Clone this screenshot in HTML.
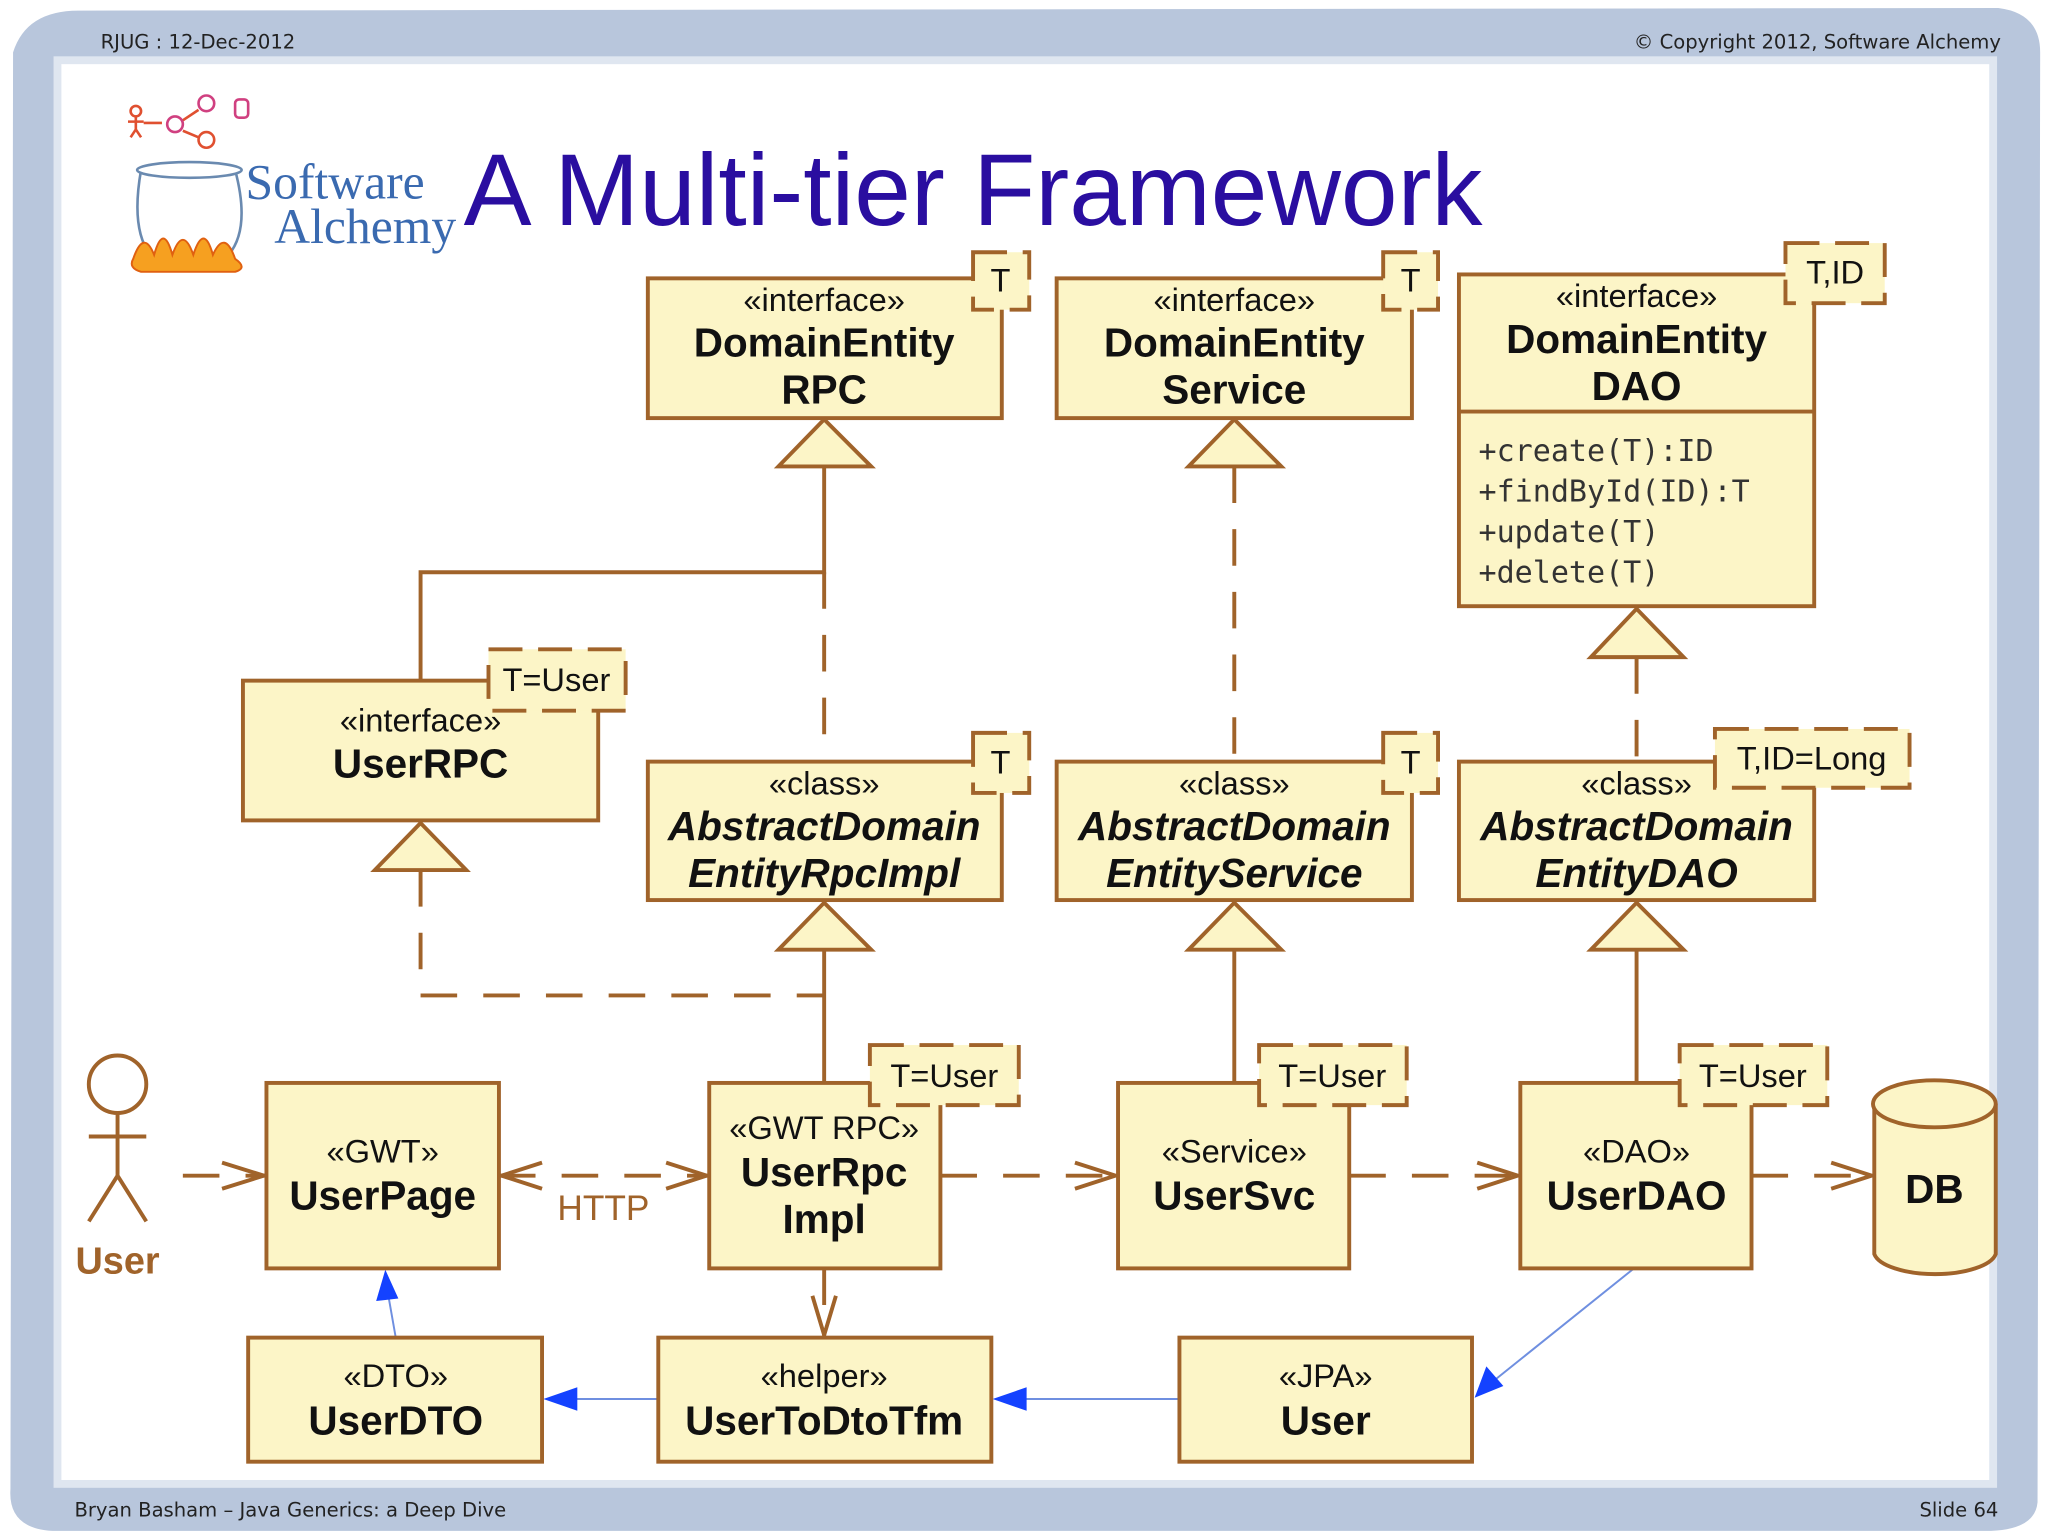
<!DOCTYPE html>
<html><head><meta charset="utf-8"><style>
html,body{margin:0;padding:0;background:#fff}
svg{display:block}
text{font-family:"Liberation Sans","DejaVu Sans",sans-serif}
.hf{font-family:"DejaVu Sans","Liberation Sans",sans-serif;font-size:15px;fill:#222}
.logo{font-family:"Liberation Serif",serif;font-size:38px;fill:#3a6ab0}
.st{font-size:25px;fill:#111;text-anchor:middle}
.nm{font-size:31px;font-weight:bold;fill:#111;text-anchor:middle}
.it{font-style:italic}
.bx{fill:#fcf5c7;stroke:#a0632a;stroke-width:3}
.tp{fill:#fcf5c7;stroke:#a0632a;stroke-width:3;stroke-dasharray:26 12}
.tt{font-size:25px;fill:#111;text-anchor:middle}
.ln{stroke:#a0632a;stroke-width:3;fill:none}
.dl{stroke:#a0632a;stroke-width:3;fill:none;stroke-dasharray:28 20}
.tri{fill:#fcf5c7;stroke:#a0632a;stroke-width:3}
.bl{stroke:#6f8fe0;stroke-width:1.5;fill:none}
.ah{fill:#1442ff}
.mono{font-family:"DejaVu Sans Mono","Liberation Mono",monospace;font-size:23px;fill:#333}
</style></head><body>
<svg width="2048" height="1535" viewBox="0 0 1568 1175" xmlns="http://www.w3.org/2000/svg">
<rect x="0" y="0" width="1568" height="1175" fill="#fff"/>
<path d="M10,40 Q20,8 60,8 L1530,6 Q1562,10 1562,40 L1560,1150 Q1558,1172 1520,1172 L40,1172 Q6,1170 8,1140 Z" fill="#b8c6dc"/>
<rect x="44" y="46" width="1482" height="1090" fill="#fff"/>
<rect x="44" y="46" width="1482" height="1090" fill="none" stroke="#dfe6f0" stroke-width="6"/>
<text class="hf" x="77" y="37">RJUG : 12-Dec-2012</text>
<text class="hf" x="1532" y="37" text-anchor="end">© Copyright 2012, Software Alchemy</text>
<text class="hf" x="57" y="1161">Bryan Basham – Java Generics: a Deep Dive</text>
<text class="hf" x="1530" y="1161" text-anchor="end">Slide 64</text>
<g fill="none" stroke="#e05030" stroke-width="2">
<circle cx="104" cy="85" r="4"/><path d="M104,89 v10 M98,93 h12 M104,99 l-4,6 M104,99 l4,6"/>
<path d="M110,94 h14 M140,92 l12,-8 M140,100 l12,5"/>
<circle cx="134" cy="95" r="6" stroke="#d04080"/><circle cx="158" cy="79" r="6" stroke="#d04080"/><circle cx="158" cy="107" r="6"/>
<rect x="180" y="76" width="10" height="14" rx="3" stroke="#d04080"/>
</g>
<path d="M108,130 Q100,175 115,195 Q145,210 175,195 Q192,175 180,130 Z" fill="#fff" stroke="#6a8ab0" stroke-width="2"/>
<ellipse cx="145" cy="130" rx="40" ry="6" fill="#fff" stroke="#6a8ab0" stroke-width="2"/>
<path d="M102,198 Q110,175 118,195 Q125,170 132,195 Q140,172 148,195 Q156,170 163,195 Q172,175 180,198 Q190,205 180,208 L108,208 Q98,205 102,198 Z" fill="#f6a020" stroke="#e06010" stroke-width="1.5"/>
<text class="logo" x="188" y="152">Software</text>
<text class="logo" x="210" y="186">Alchemy</text>
<text x="355" y="172" font-size="78" fill="#2a0ea0">A Multi-tier Framework</text>

<path class="ln" d="M631,357 V438 H322 V521"/>
<path class="dl" d="M631,438 V583"/>
<path class="dl" d="M945,357 V583"/>
<path class="dl" d="M1253,503 V583"/>
<path class="dl" d="M322,666 V762 H631"/>
<path class="ln" d="M631,727 V829 M945,727 V829 M1253,727 V829"/>
<path class="dl" d="M140,900 H204 M382,900 H543 M720,900 H856 M1033,900 H1164 M1341,900 H1435 M631,971 V1024"/>
<g class="ln">
<path d="M170,890 L202,900 L170,910"/>
<path d="M415,890 L384,900 L415,910"/><path d="M510,890 L541,900 L510,910"/>
<path d="M823,890 L854,900 L823,910"/><path d="M1131,890 L1162,900 L1131,910"/>
<path d="M1402,890 L1433,900 L1402,910"/><path d="M622,992 L631,1022 L640,992"/>
</g>
<text x="462" y="934" font-size="27" fill="#a0632a" text-anchor="middle">HTTP</text>
<path class="bl" d="M504,1071 H430 M903,1071 H775 M1251,971 L1140,1060 M303,1024 L297,990"/>
<path class="ah" d="M416,1071 L442,1062 L442,1080 Z"/>
<path class="ah" d="M760,1071 L786,1062 L786,1080 Z"/>
<path class="ah" d="M1129,1070 L1138,1046 L1151,1061 Z"/>
<path class="ah" d="M295,972 L288,996 L305,994 Z"/>

<path class="tri" d="M631,321 L596,357 L667,357 Z"/>
<path class="tri" d="M945,321 L910,357 L981,357 Z"/>
<path class="tri" d="M1253,466 L1218,503 L1289,503 Z"/>
<path class="tri" d="M322,630 L287,666 L357,666 Z"/>
<path class="tri" d="M631,691 L596,727 L667,727 Z"/>
<path class="tri" d="M945,691 L910,727 L981,727 Z"/>
<path class="tri" d="M1253,691 L1218,727 L1289,727 Z"/>

<rect class="bx" x="496" y="213" width="271" height="107"/>
<text class="st" x="631" y="238">«interface»</text><text class="nm" x="631" y="273">DomainEntity</text><text class="nm" x="631" y="309">RPC</text>
<rect class="tp" x="745" y="193" width="43" height="44"/><text class="tt" x="766" y="223">T</text>
<rect class="bx" x="809" y="213" width="272" height="107"/>
<text class="st" x="945" y="238">«interface»</text><text class="nm" x="945" y="273">DomainEntity</text><text class="nm" x="945" y="309">Service</text>
<rect class="tp" x="1059" y="193" width="42" height="44"/><text class="tt" x="1080" y="223">T</text>
<rect class="bx" x="1117" y="210" width="272" height="254"/>
<line class="ln" x1="1117" y1="315" x2="1389" y2="315"/>
<text class="st" x="1253" y="235">«interface»</text><text class="nm" x="1253" y="270">DomainEntity</text><text class="nm" x="1253" y="306">DAO</text>
<text class="mono" x="1132" y="353">+create(T):ID</text><text class="mono" x="1132" y="384">+findById(ID):T</text>
<text class="mono" x="1132" y="415">+update(T)</text><text class="mono" x="1132" y="446">+delete(T)</text>
<rect class="tp" x="1367" y="186" width="76" height="46"/><text class="tt" x="1405" y="217">T,ID</text>

<rect class="bx" x="186" y="521" width="272" height="107"/>
<text class="st" x="322" y="560">«interface»</text><text class="nm" x="322" y="595">UserRPC</text>
<rect class="tp" x="374" y="497" width="105" height="47"/><text class="tt" x="426" y="529">T=User</text>
<rect class="bx" x="496" y="583" width="271" height="106"/>
<text class="st" x="631" y="608">«class»</text><text class="nm it" x="631" y="643">AbstractDomain</text><text class="nm it" x="631" y="679">EntityRpcImpl</text>
<rect class="tp" x="745" y="561" width="43" height="46"/><text class="tt" x="766" y="592">T</text>
<rect class="bx" x="809" y="583" width="272" height="106"/>
<text class="st" x="945" y="608">«class»</text><text class="nm it" x="945" y="643">AbstractDomain</text><text class="nm it" x="945" y="679">EntityService</text>
<rect class="tp" x="1059" y="561" width="42" height="46"/><text class="tt" x="1080" y="592">T</text>
<rect class="bx" x="1117" y="583" width="272" height="106"/>
<text class="st" x="1253" y="608">«class»</text><text class="nm it" x="1253" y="643">AbstractDomain</text><text class="nm it" x="1253" y="679">EntityDAO</text>
<rect class="tp" x="1313" y="558" width="149" height="45"/><text class="tt" x="1387" y="589">T,ID=Long</text>

<g class="ln" stroke-width="4">
<circle cx="90" cy="830" r="22"/><path d="M90,852 V900 M68,870 H112 M90,900 L68,935 M90,900 L112,935"/>
</g>
<text x="90" y="975" font-size="29" font-weight="bold" fill="#a0632a" text-anchor="middle">User</text>

<rect class="bx" x="204" y="829" width="178" height="142"/>
<text class="st" x="293" y="890">«GWT»</text><text class="nm" x="293" y="926">UserPage</text>
<rect class="bx" x="543" y="829" width="177" height="142"/>
<text class="st" x="631" y="872">«GWT RPC»</text><text class="nm" x="631" y="908">UserRpc</text><text class="nm" x="631" y="944">Impl</text>
<rect class="tp" x="666" y="800" width="114" height="46"/><text class="tt" x="723" y="832">T=User</text>
<rect class="bx" x="856" y="829" width="177" height="142"/>
<text class="st" x="945" y="890">«Service»</text><text class="nm" x="945" y="926">UserSvc</text>
<rect class="tp" x="964" y="800" width="113" height="46"/><text class="tt" x="1020" y="832">T=User</text>
<rect class="bx" x="1164" y="829" width="177" height="142"/>
<text class="st" x="1253" y="890">«DAO»</text><text class="nm" x="1253" y="926">UserDAO</text>
<rect class="tp" x="1286" y="800" width="113" height="46"/><text class="tt" x="1342" y="832">T=User</text>
<path class="bx" d="M1435,845 V960 A47,18 0 0 0 1528,960 V845"/>
<ellipse class="bx" cx="1481" cy="845" rx="47" ry="18"/>
<text class="nm" x="1481" y="921">DB</text>

<rect class="bx" x="190" y="1024" width="225" height="95"/>
<text class="st" x="303" y="1062">«DTO»</text><text class="nm" x="303" y="1098">UserDTO</text>
<rect class="bx" x="504" y="1024" width="255" height="95"/>
<text class="st" x="631" y="1062">«helper»</text><text class="nm" x="631" y="1098">UserToDtoTfm</text>
<rect class="bx" x="903" y="1024" width="224" height="95"/>
<text class="st" x="1015" y="1062">«JPA»</text><text class="nm" x="1015" y="1098">User</text>
</svg>
</body></html>
